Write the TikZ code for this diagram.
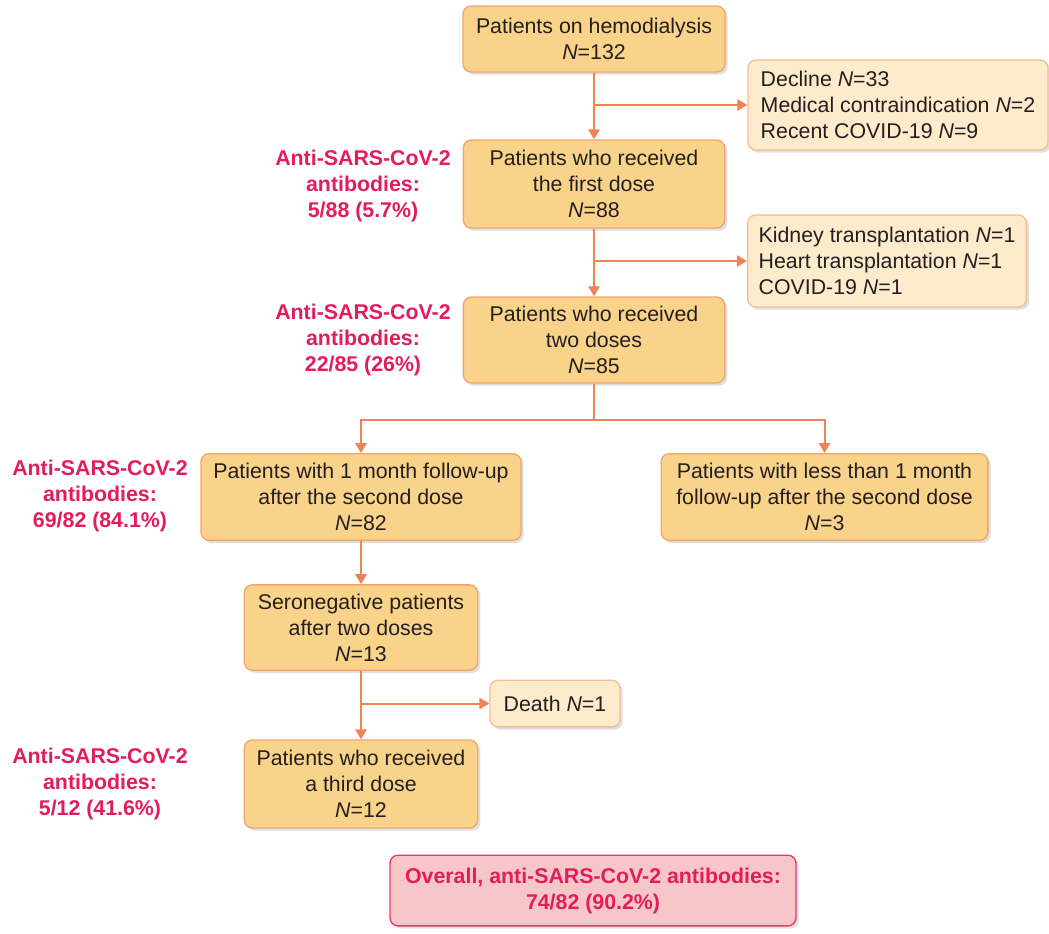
\documentclass[tikz,border=0pt]{standalone}
\usepackage{fontspec}
\setmainfont{Liberation Sans}
\usetikzlibrary{arrows.meta,shadows}
\definecolor{boxfill}{HTML}{F9D38A}
\definecolor{boxdraw}{HTML}{F2A570}
\definecolor{lightfill}{HTML}{FDEBCB}
\definecolor{lightdraw}{HTML}{F6BE95}
\definecolor{arrowcol}{HTML}{EE8354}
\definecolor{redtext}{HTML}{E31C5C}
\definecolor{redfill}{HTML}{F7C6C8}
\definecolor{reddraw}{HTML}{E43B6B}
\definecolor{txt}{HTML}{231F20}
\tikzset{
  base/.style={rounded corners=6pt, line width=1pt, inner sep=0pt, align=center,
    text=txt, font=\fontsize{16}{19.5}\selectfont,
    drop shadow={opacity=0.25, shadow xshift=2pt, shadow yshift=-2pt}},
  mainbox/.style={base, fill=boxfill, draw=boxdraw},
  sidebox/.style={base, fill=lightfill, draw=lightdraw, align=left},
  lbl/.style={align=center, text=redtext, font=\bfseries\fontsize{16}{19.5}\selectfont},
  arr/.style={draw=arrowcol, line width=1.5pt, -{Triangle[length=7.5pt,width=8.5pt]}},
  ln/.style={draw=arrowcol, line width=1.5pt}
}
\begin{document}
\begin{tikzpicture}[x=0.75pt,y=-0.75pt]
\useasboundingbox (0,0) rectangle (1049,933);
\node[mainbox, minimum width=196.5pt, minimum height=49.5pt] (b1) at (594,39) {Patients on hemodialysis\\\textit{N}=132};
\node[sidebox, minimum width=225pt, minimum height=67.5pt] (e1) at (898,105) {Decline \textit{N}=33\\Medical contraindication \textit{N}=2\\Recent COVID-19 \textit{N}=9};
\node[mainbox, minimum width=196pt, minimum height=66pt] (b3) at (594,184) {Patients who received\\the first dose\\\textit{N}=88};
\node[sidebox, minimum width=209pt, minimum height=69pt] (e2) at (887,261) {Kidney transplantation \textit{N}=1\\Heart transplantation \textit{N}=1\\COVID-19 \textit{N}=1};
\node[mainbox, minimum width=196pt, minimum height=64.5pt] (b5) at (594,340) {Patients who received\\two doses\\\textit{N}=85};
\node[mainbox, minimum width=240pt, minimum height=65pt] (b6) at (361,497) {Patients with 1 month follow-up\\after the second dose\\\textit{N}=82};
\node[mainbox, minimum width=245pt, minimum height=65pt] (b7) at (824.5,497) {Patients with less than 1 month\\follow-up after the second dose\\\textit{N}=3};
\node[mainbox, minimum width=175pt, minimum height=64pt] (b8) at (361,627.5) {Seronegative patients\\after two doses\\\textit{N}=13};
\node[sidebox, minimum width=97.5pt, minimum height=35pt, align=center] (e3) at (555,703.5) {Death \textit{N}=1};
\node[mainbox, minimum width=175pt, minimum height=66pt] (b10) at (361,784) {Patients who received\\a third dose\\\textit{N}=12};
\node[base, fill=redfill, draw=reddraw, text=redtext, font=\bfseries\fontsize{16}{19.5}\selectfont, minimum width=304.5pt, minimum height=53pt] (ov) at (593,890.5) {Overall, anti-SARS-CoV-2 antibodies:\\74/82 (90.2\%)};
\node[lbl] (l1) at (363,186) {Anti-SARS-CoV-2\\antibodies:\\5/88 (5.7\%)};
\node[lbl] (l2) at (363,340) {Anti-SARS-CoV-2\\antibodies:\\22/85 (26\%)};
\node[lbl] (l3) at (100,496) {Anti-SARS-CoV-2\\antibodies:\\69/82 (84.1\%)};
\node[lbl] (l4) at (100,784) {Anti-SARS-CoV-2\\antibodies:\\5/12 (41.6\%)};
\coordinate (split) at (594,420);
\draw[arr] (b1.south) -- (b3.north);
\draw[arr] (b1.south |- e1.west) -- (e1.west);
\draw[arr] (b3.south) -- (b5.north);
\draw[arr] (b3.south |- e2.west) -- (e2.west);
\draw[ln] (b5.south) -- (split);
\draw[arr] (split) -| (b6.north);
\draw[arr] (split) -| (b7.north);
\draw[arr] (b6.south) -- (b8.north);
\draw[arr] (b8.south) -- (b10.north);
\draw[arr] (b8.south |- e3.west) -- (e3.west);
\end{tikzpicture}
\end{document}
